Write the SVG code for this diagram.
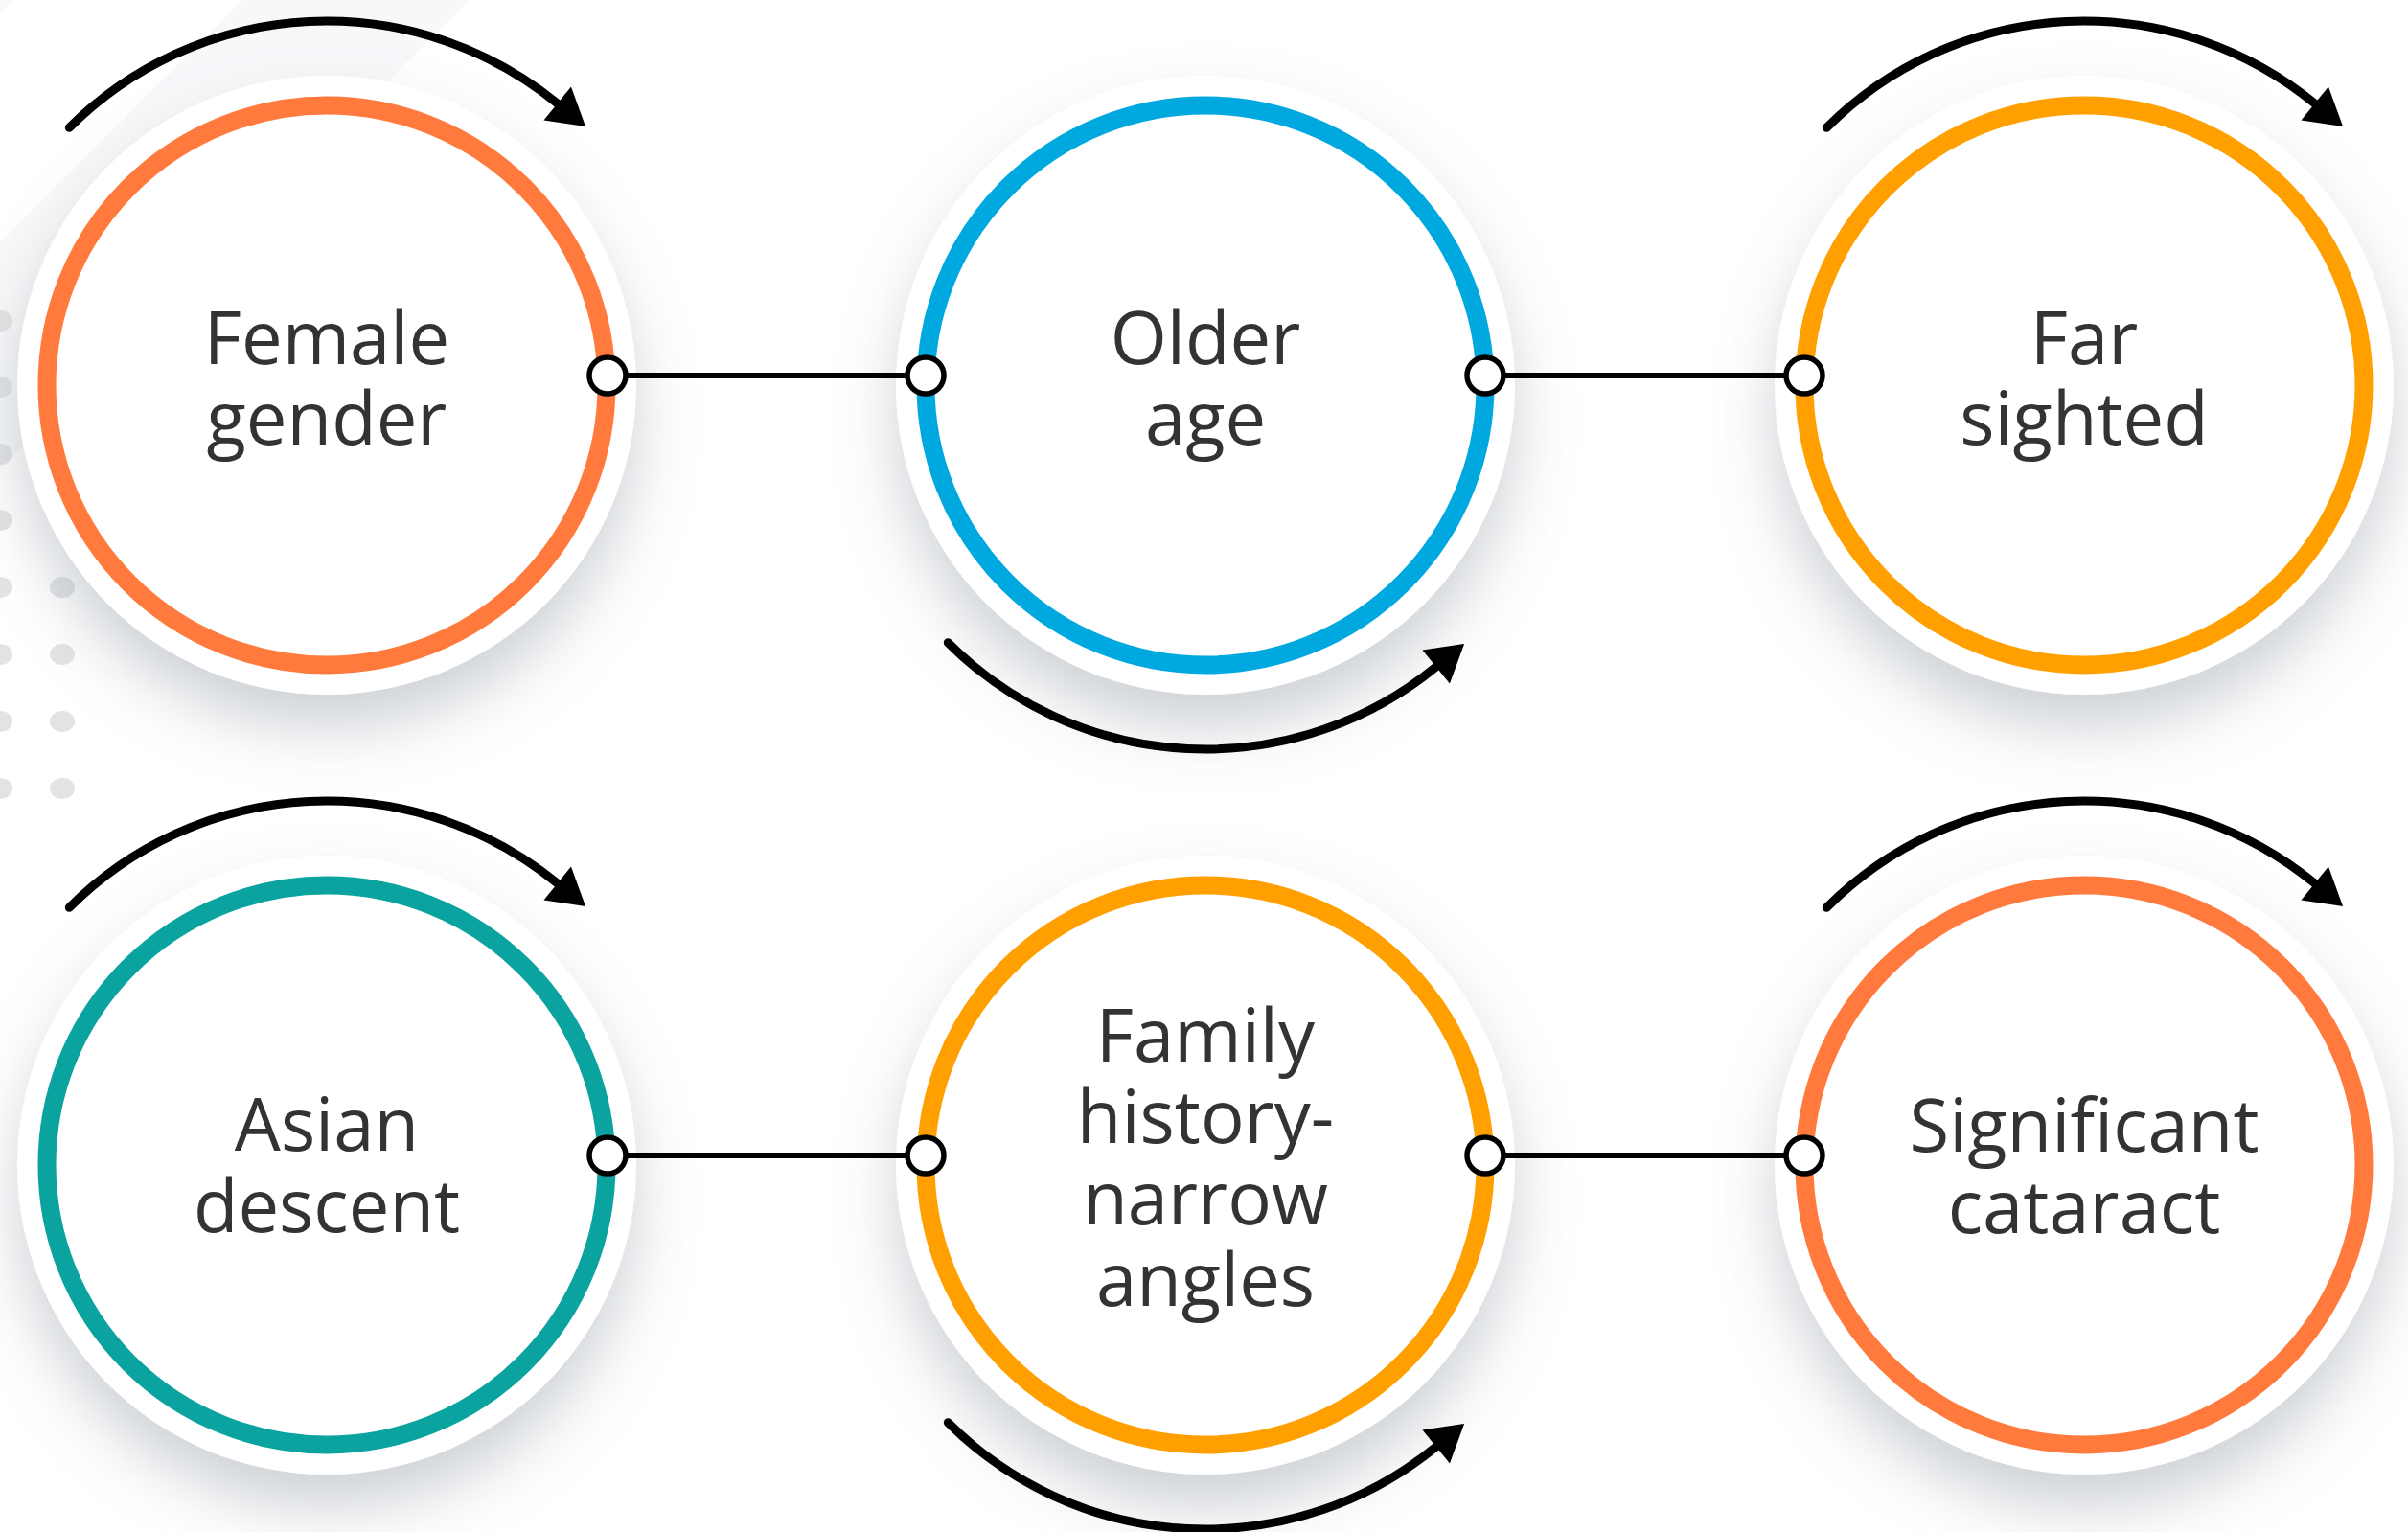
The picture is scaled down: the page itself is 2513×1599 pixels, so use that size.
<svg xmlns="http://www.w3.org/2000/svg" width="2513" height="1599" viewBox="0 0 2513 1599">
  <defs>
    <filter id="shadow" x="-30%" y="-30%" width="160%" height="170%">
      <feDropShadow dx="0" dy="35" stdDeviation="32" flood-color="#8A939C" flood-opacity="0.42"/>
    </filter>
    <marker id="arrowhead" markerUnits="userSpaceOnUse" viewBox="-2 -25 44 50" markerWidth="44" markerHeight="50" refX="0" refY="0" orient="auto">
      <path d="M0,-22.5 L38,0 L0,22.5 Z" fill="#000"/>
    </marker>
    <style>
      .halo { fill: #ffffff; filter: url(#shadow); }
      .ring { fill: #ffffff; stroke-width: 19; }
      .label { font-family: "Open Sans", "Liberation Sans", sans-serif; font-size: 76px; fill: #333333; text-anchor: middle; }
      .link { stroke: #000; stroke-width: 6; fill: none; }
      .port { fill: #ffffff; stroke: #000; stroke-width: 5.5; }
      .spin { fill: none; stroke: #000; stroke-width: 9; stroke-linecap: round; marker-end: url(#arrowhead); }
      .dot { fill: #E2E3E4; }
    </style>
  </defs>

  <rect x="0" y="0" width="2513" height="1599" fill="#ffffff"/>

  <g id="background">
    <polygon points="253,0 490,0 0,490 0,253" fill="#F7F8F9"/>
    <polygon points="0,0 15,0 0,15" fill="#F7F8F9"/>
    <ellipse class="dot" cx="0" cy="335" rx="13" ry="11"/>
    <ellipse class="dot" cx="0" cy="404" rx="13" ry="11"/>
    <ellipse class="dot" cx="0" cy="474" rx="13" ry="11"/>
    <ellipse class="dot" cx="0" cy="543" rx="13" ry="11"/>
    <ellipse class="dot" cx="0" cy="613" rx="13" ry="11"/>
    <ellipse class="dot" cx="0" cy="683" rx="13" ry="11"/>
    <ellipse class="dot" cx="0" cy="753" rx="13" ry="11"/>
    <ellipse class="dot" cx="0" cy="823" rx="13" ry="11"/>
    <ellipse class="dot" cx="65" cy="613" rx="13" ry="11"/>
    <ellipse class="dot" cx="65" cy="683" rx="13" ry="11"/>
    <ellipse class="dot" cx="65" cy="753" rx="13" ry="11"/>
    <ellipse class="dot" cx="65" cy="823" rx="13" ry="11"/>
  </g>

  <g id="node-female-gender">
    <circle class="halo" cx="341" cy="402" r="323"/>
    <circle class="ring" cx="341" cy="402" r="292" stroke="#FF7A3C"/>
    <text class="label" x="341" y="380">Female</text>
    <text class="label" x="341" y="464">gender</text>
  </g>

  <g id="node-older-age">
    <circle class="halo" cx="1258" cy="402" r="323"/>
    <circle class="ring" cx="1258" cy="402" r="292" stroke="#00A8E0"/>
    <text class="label" x="1258" y="380">Older</text>
    <text class="label" x="1258" y="464">age</text>
  </g>

  <g id="node-far-sighted">
    <circle class="halo" cx="2175" cy="402" r="323"/>
    <circle class="ring" cx="2175" cy="402" r="292" stroke="#FFA000"/>
    <text class="label" x="2175" y="380">Far</text>
    <text class="label" x="2175" y="464">sighted</text>
  </g>

  <g id="node-asian-descent">
    <circle class="halo" cx="341" cy="1216" r="323"/>
    <circle class="ring" cx="341" cy="1216" r="292" stroke="#0AA39F"/>
    <text class="label" x="341" y="1201">Asian</text>
    <text class="label" x="341" y="1286">descent</text>
  </g>

  <g id="node-family-history">
    <circle class="halo" cx="1258" cy="1216" r="323"/>
    <circle class="ring" cx="1258" cy="1216" r="292" stroke="#FFA000"/>
    <text class="label" x="1258" y="1108">Family</text>
    <text class="label" x="1258" y="1193">history-</text>
    <text class="label" x="1258" y="1278">narrow</text>
    <text class="label" x="1258" y="1363">angles</text>
  </g>

  <g id="node-significant-cataract">
    <circle class="halo" cx="2175" cy="1216" r="323"/>
    <circle class="ring" cx="2175" cy="1216" r="292" stroke="#FF7A3C"/>
    <text class="label" x="2175" y="1202">Significant</text>
    <text class="label" x="2175" y="1287">cataract</text>
  </g>

  <g id="connectors">
    <line class="link" x1="634" y1="392" x2="966" y2="392"/>
    <line class="link" x1="1550" y1="392" x2="1883" y2="392"/>
    <line class="link" x1="634" y1="1206" x2="966" y2="1206"/>
    <line class="link" x1="1550" y1="1206" x2="1883" y2="1206"/>
    <circle class="port" cx="634" cy="392" r="19"/>
    <circle class="port" cx="966" cy="392" r="19"/>
    <circle class="port" cx="1550" cy="392" r="19"/>
    <circle class="port" cx="1883" cy="392" r="19"/>
    <circle class="port" cx="634" cy="1206" r="19"/>
    <circle class="port" cx="966" cy="1206" r="19"/>
    <circle class="port" cx="1550" cy="1206" r="19"/>
    <circle class="port" cx="1883" cy="1206" r="19"/>
  </g>

  <g id="rotation-arrows">
    <path class="spin" d="M72.3,133.3 A380,380 0 0 1 581.7,108"/>
    <path class="spin" d="M989.3,670.7 A380,380 0 0 0 1498.7,696"/>
    <path class="spin" d="M1906.3,133.3 A380,380 0 0 1 2415.7,108"/>
    <path class="spin" d="M72.3,947.3 A380,380 0 0 1 581.7,922"/>
    <path class="spin" d="M989.3,1484.7 A380,380 0 0 0 1498.7,1510"/>
    <path class="spin" d="M1906.3,947.3 A380,380 0 0 1 2415.7,922"/>
  </g>
</svg>
